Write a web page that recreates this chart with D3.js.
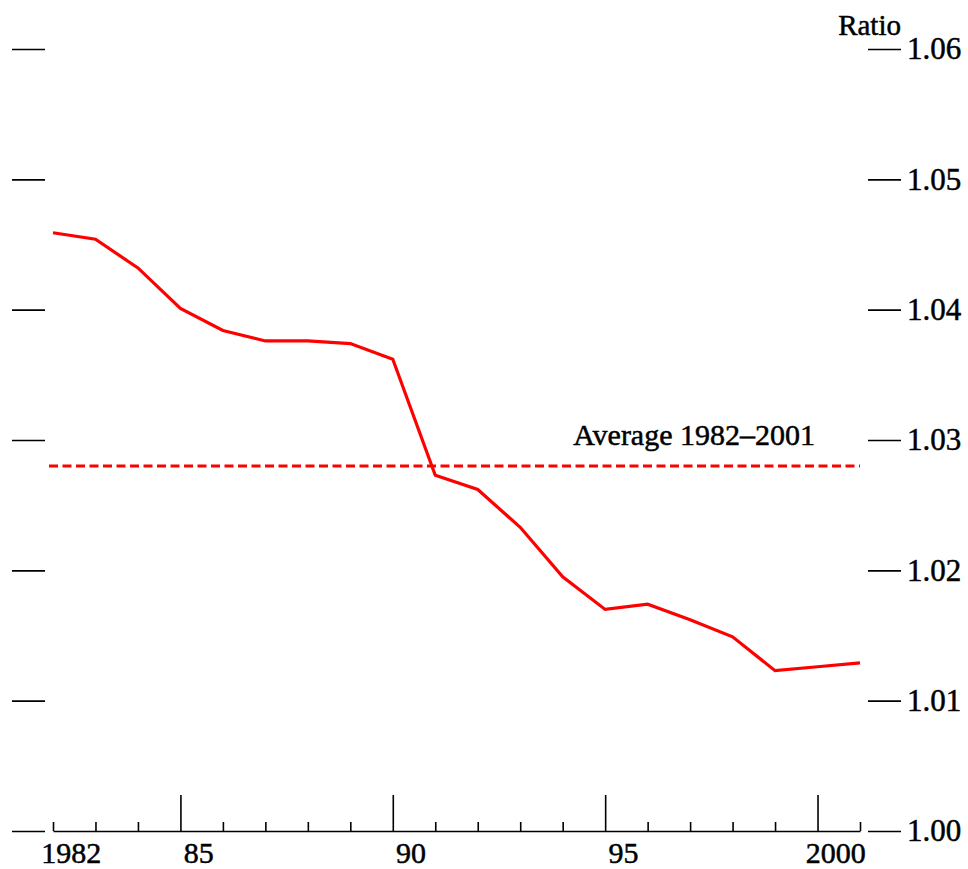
<!DOCTYPE html>
<html>
<head>
<meta charset="utf-8">
<script src="https://cdn.jsdelivr.net/npm/d3@7"></script>
<style>
  html, body { margin: 0; padding: 0; background: #fff; }
  svg { display: block; }
  text { font-family: "Liberation Serif", "Times New Roman", serif; fill: #000; stroke: #000; stroke-width: 0.5px; }
</style>
</head>
<body>
<svg id="chart" width="968" height="869"></svg>
<script>
// ---- data ----
const years = [1982,1983,1984,1985,1986,1987,1988,1989,1990,1991,1992,1993,1994,1995,1996,1997,1998,1999,2000,2001];
const ratio = [1.0459,1.0454,1.0432,1.0401,1.0384,1.0376,1.0376,1.0374,1.0362,1.0273,1.0262,1.0233,1.0195,1.0170,1.0174,1.0162,1.0149,1.0123,1.0126,1.0129];
const average = 1.028;
const averageLabel = "Average 1982\u20132001";
const yTicks = [1.00,1.01,1.02,1.03,1.04,1.05,1.06];
const majorYears = [1985,1990,1995,2000];
const xLabels = [{year:1982, text:"1982"},{year:1985, text:"85"},{year:1990, text:"90"},{year:1995, text:"95"},{year:2000, text:"2000"}];
const yTitle = "Ratio";

// ---- scales ----
const svg = d3.select("#chart");
const x = d3.scaleLinear().domain([1982, 2001]).range([53, 860]);
const y = d3.scaleLinear().domain([1.00, 1.06]).range([831, 49]);

// ---- bottom axis (ticks pointing up) ----
const minorAxis = d3.axisTop(x).tickValues(years.filter(v => !majorYears.includes(v)))
  .tickSizeInner(9).tickSizeOuter(0).tickFormat("");
const gMinor = svg.append("g").attr("transform", `translate(0,${y(1.00)})`).call(minorAxis);
const majorAxis = d3.axisTop(x).tickValues(majorYears)
  .tickSizeInner(36).tickSizeOuter(0).tickFormat("");
const gMajor = svg.append("g").attr("transform", `translate(0,${y(1.00)})`).call(majorAxis);
gMajor.select(".domain").remove();
[gMinor, gMajor].forEach(g => {
  g.selectAll("path, line").attr("stroke", "#000").attr("stroke-width", 1.6);
});

// x labels (centred half a year to the right of the tick)
svg.append("g").selectAll("text").data(xLabels).join("text")
  .attr("x", d => x(d.year + 0.43))
  .attr("y", y(1.00) + 32)
  .attr("text-anchor", "middle")
  .attr("font-size", 30)
  .text(d => d.text);

// ---- right axis ----
const rightAxis = d3.axisRight(y).tickValues(yTicks).tickSize(33).tickPadding(6)
  .tickFormat(d3.format(".2f"));
const gRight = svg.append("g").attr("transform", "translate(868,0)").call(rightAxis);
gRight.select(".domain").remove();
gRight.selectAll("line").attr("stroke", "#000").attr("stroke-width", 1.6);
gRight.selectAll("text").attr("font-size", 31)
  .attr("font-family", "Liberation Serif, serif").attr("fill", "#000");

// ---- left ticks ----
const leftAxis = d3.axisRight(y).tickValues(yTicks).tickSize(33).tickFormat("");
const gLeft = svg.append("g").attr("transform", "translate(12,0)").call(leftAxis);
gLeft.select(".domain").remove();
gLeft.selectAll("line").attr("stroke", "#000").attr("stroke-width", 1.6);

// title
svg.append("text").attr("x", 901).attr("y", 35).attr("text-anchor", "end")
  .attr("font-size", 29).text(yTitle);

// ---- average dashed line ----
svg.append("line")
  .attr("x1", x(1982) - 4).attr("x2", x(2001))
  .attr("y1", y(average)).attr("y2", y(average))
  .attr("stroke", "#ff0000").attr("stroke-width", 3)
  .attr("stroke-dasharray", "9,4.5");
svg.append("text").attr("x", 815).attr("y", y(average) - 21)
  .attr("text-anchor", "end").attr("font-size", 30).text(averageLabel);

// ---- series line ----
const line = d3.line().x((d, i) => x(years[i])).y(d => y(d));
svg.append("path").datum(ratio)
  .attr("d", line)
  .attr("fill", "none")
  .attr("stroke", "#ff0000")
  .attr("stroke-width", 3.2)
  .attr("stroke-linejoin", "miter");
</script>
</body>
</html>
